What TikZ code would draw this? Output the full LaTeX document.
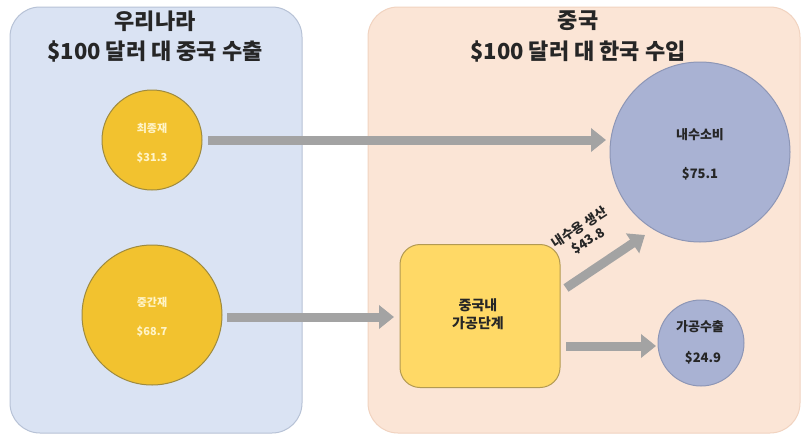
\documentclass[tikz,border=0pt]{standalone}
\usepackage{fontspec}
\newfontfamily\kr{Noto Sans CJK KR}
\usetikzlibrary{arrows.meta}
\definecolor{lpanel}{HTML}{DAE3F3}
\definecolor{lpanelb}{HTML}{B7C2D6}
\definecolor{rpanel}{HTML}{FBE5D6}
\definecolor{rpanelb}{HTML}{F1D3C0}
\definecolor{yel}{HTML}{F2C22F}
\definecolor{yelb}{HTML}{9E8A3E}
\definecolor{boxy}{HTML}{FFD966}
\definecolor{boxyb}{HTML}{B39A52}
\definecolor{bluec}{HTML}{A9B2D3}
\definecolor{bluecb}{HTML}{8D96B6}
\definecolor{arr}{HTML}{A3A3A3}
\definecolor{txt}{HTML}{262626}
\definecolor{ltxt}{HTML}{FFF4C8}
\tikzset{
  panel/.style={rounded corners=30pt, line width=1pt},
  ycirc/.style={circle, fill=yel, draw=yelb, line width=1pt, inner sep=0pt},
  bcirc/.style={circle, fill=bluec, draw=bluecb, line width=1pt, inner sep=0pt},
  bigarrow/.style={draw=arr, line width=9pt, -{Triangle[length=15pt,width=23pt]}},
  ttl/.style={font=\kr\bfseries\fontsize{22}{26}\selectfont, text=txt, align=center},
  smalltxt/.style={font=\kr\bfseries\fontsize{11}{13}\selectfont, text=ltxt},
  darktxt/.style={font=\kr\bfseries\fontsize{13}{15}\selectfont, text=txt}
}
\begin{document}
\begin{tikzpicture}[x=1pt,y=-1pt]
\useasboundingbox (0,0) rectangle (804,437);
\fill[white] (0,0) rectangle (804,437);
% panels
\draw[panel, fill=lpanel, draw=lpanelb] (10,7) rectangle (302,433);
\draw[panel, fill=rpanel, draw=rpanelb] (368,7) rectangle (800,433);
% titles
\node[ttl] (t1) at (155,21) {우리나라};
\node[ttl] (t2) at (155,51) {\$100 달러 대 중국 수출};
\node[ttl] (t3) at (578,21) {중국};
\node[ttl] (t4) at (578,51) {\$100 달러 대 한국 수입};
% nodes
\node[ycirc, minimum size=100pt] (final) at (152,140) {};
\node[smalltxt] at (152,128) {최종재};
\node[smalltxt] at (152,157) {\$31.3};
\node[ycirc, minimum size=140pt] (inter) at (152,315) {};
\node[smalltxt] at (152,302) {중간재};
\node[smalltxt] at (152,331) {\$68.7};
\node[bcirc, minimum size=180pt] (dom) at (700,152) {};
\node[darktxt] at (700,135) {내수소비};
\node[darktxt] at (700,174) {\$75.1};
\node[bcirc, minimum size=86pt] (exp) at (701,343) {};
\node[darktxt] at (700,327) {가공수출};
\node[darktxt] at (703,358) {\$24.9};
\node[draw=boxyb, fill=boxy, line width=1pt, rounded corners=20pt, minimum width=160pt, minimum height=143pt] (proc) at (480,316) {};
\node[darktxt, align=center, font=\kr\bfseries\fontsize{14}{18}\selectfont] at (478,314) {중국내\\가공단계};
% arrows
\coordinate (a1s) at (208,140);
\coordinate (a1e) at (606,140);
\draw[bigarrow] (a1s) -- (a1e);
\coordinate (a2s) at (227,317);
\coordinate (a2e) at (394,317);
\draw[bigarrow] (a2s) -- (a2e);
\coordinate (a3s) at (566,288);
\coordinate (a3e) at (645,235);
\draw[bigarrow] (a3s) -- (a3e);
\coordinate (a4s) at (566,346);
\coordinate (a4e) at (656,346);
\draw[bigarrow] (a4s) -- (a4e);
\node[darktxt, align=center, rotate=33, font=\kr\bfseries\fontsize{13}{16}\selectfont] (lbl) at (584,234) {내수용 생산\\\$43.8};
\end{tikzpicture}
\end{document}
